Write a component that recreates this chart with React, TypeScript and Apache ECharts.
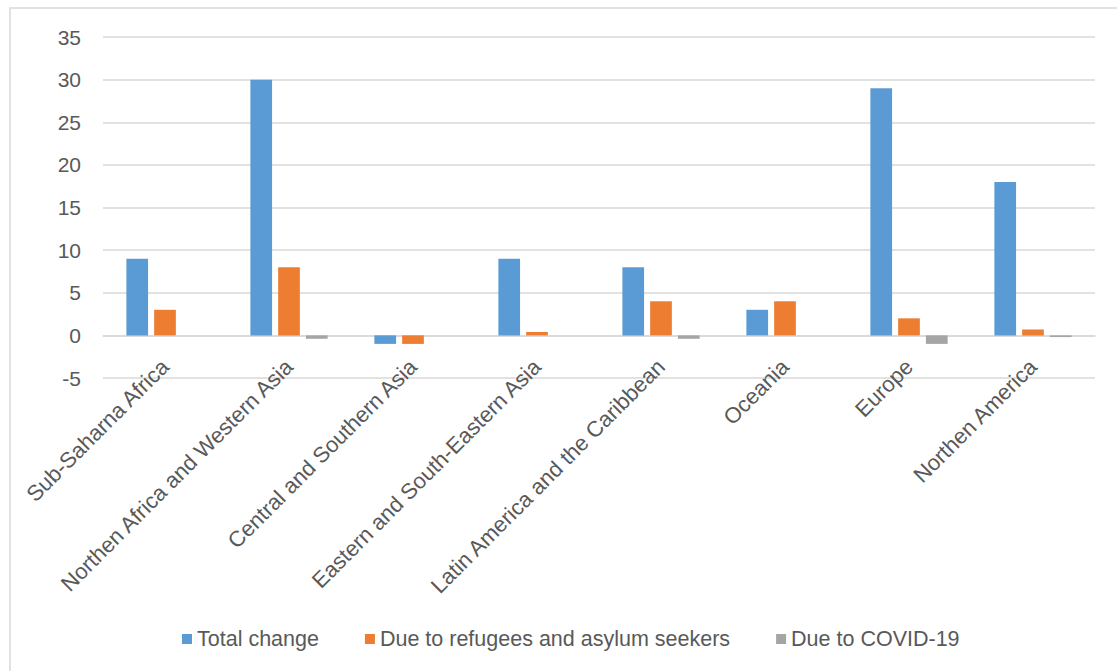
import React, { useEffect, useRef } from "react";
import * as echarts from "echarts";

const categories = [
  "Sub-Saharna Africa",
  "Northen Africa and Western Asia",
  "Central and Southern Asia",
  "Eastern and South-Eastern Asia",
  "Latin America and the Caribbean",
  "Oceania",
  "Europe",
  "Northen America",
];

const totalChange = [9, 30, -1, 9, 8, 3, 29, 18];
const dueToRefugees = [3, 8, -1, 0.4, 4, 4, 2, 0.7];
const dueToCovid = [0, -0.4, 0, 0, -0.4, 0, -1, -0.2];

const seriesNames = [
  "Total change",
  "Due to refugees and asylum seekers",
  "Due to COVID-19",
];

const yTicks = { min: -5, max: 35, interval: 5 };

const FONT = "'Liberation Sans', Arial, sans-serif";
const TEXT = "#595959";
const GRID_LINE = "#D9D9D9";

export default function App() {
  const ref = useRef<HTMLDivElement>(null);

  useEffect(() => {
    if (!ref.current) return;
    const chart = echarts.init(ref.current, undefined, { renderer: "svg" });

    const colors = ["#5B9BD5", "#ED7D31", "#A5A5A5"];
    const values = [totalChange, dueToRefugees, dueToCovid];

    chart.setOption({
      animation: false,
      backgroundColor: "#ffffff",
      color: colors,
      textStyle: { fontFamily: FONT },
      graphic: [
        {
          // chart frame: only the top and left edges fall inside the view
          type: "rect",
          shape: { x: 10, y: 8, width: 1130, height: 690 },
          style: { fill: "none", stroke: "#D9D9D9", lineWidth: 1.5 },
          silent: true,
        },
      ],
      grid: { left: 103, right: 22, top: 37, bottom: 671 - 378 },
      legend: {
        left: 177,
        top: 623,
        itemWidth: 10,
        itemHeight: 10,
        itemGap: 46,
        icon: "rect",
        textStyle: { color: TEXT, fontSize: 21.5, fontFamily: FONT },
        data: seriesNames,
      },
      xAxis: {
        type: "category",
        data: categories,
        axisLine: { onZero: true, lineStyle: { color: GRID_LINE, width: 1.5 } },
        axisTick: { show: false },
        axisLabel: {
          rotate: 45,
          interval: 0,
          margin: -15,
          color: TEXT,
          fontSize: 22,
          fontFamily: FONT,
        },
      },
      yAxis: {
        type: "value",
        min: yTicks.min,
        max: yTicks.max,
        interval: yTicks.interval,
        axisLine: { show: false },
        axisTick: { show: false },
        axisLabel: { color: TEXT, fontSize: 21, fontFamily: FONT, margin: 22 },
        splitLine: { lineStyle: { color: GRID_LINE, width: 1.5 } },
      },
      series: seriesNames.map((name, i) => ({
        name,
        type: "bar",
        data: values[i],
        barWidth: 21.7,
        barGap: "28%",
        itemStyle: { color: colors[i] },
      })),
    });

    return () => chart.dispose();
  }, []);

  return (
    <div
      ref={ref}
      style={{ position: "absolute", left: 0, top: 0, width: 1117, height: 671 }}
    />
  );
}
